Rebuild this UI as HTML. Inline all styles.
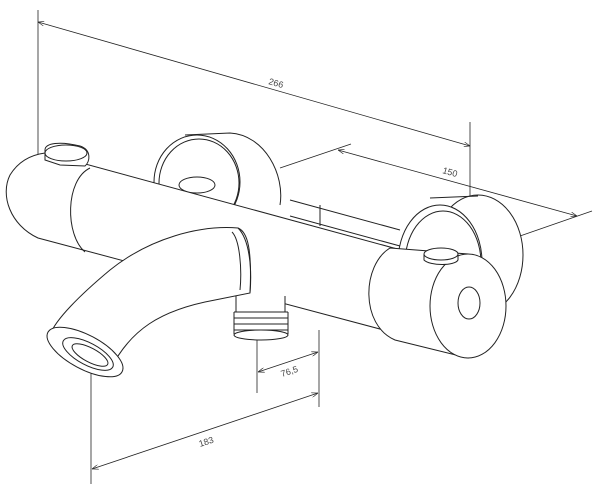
<!DOCTYPE html>
<html><head><style>html,body{margin:0;padding:0;background:#fff}svg{display:block}</style></head>
<body>
<svg width="600" height="486" viewBox="0 0 600 486" xmlns="http://www.w3.org/2000/svg" fill="none" stroke="#222" stroke-width="1">
<defs><marker id="a" markerWidth="8" markerHeight="6" refX="8" refY="3" orient="auto-start-reverse"><path d="M0,0 L8,3 L0,6" fill="none" stroke="#222" stroke-width="0.8"/></marker></defs>
<line x1="38" y1="10" x2="38" y2="157" stroke-width="0.8"/>
<line x1="470" y1="122" x2="470" y2="310" stroke-width="0.8"/>
<line x1="38" y1="22" x2="470" y2="146" stroke-width="0.8" marker-start="url(#a)" marker-end="url(#a)"/>
<text x="268" y="84" font-family="Liberation Sans,sans-serif" font-size="9" fill="#444" stroke="none" transform="rotate(16 268 84)">266</text>
<line x1="280" y1="168" x2="351" y2="144" stroke-width="0.8"/>
<line x1="520" y1="236" x2="592" y2="211" stroke-width="0.8"/>
<line x1="338" y1="150" x2="577" y2="216" stroke-width="0.8" marker-start="url(#a)" marker-end="url(#a)"/>
<text x="442" y="173" font-family="Liberation Sans,sans-serif" font-size="9" fill="#444" stroke="none" transform="rotate(16 442 173)">150</text>
<line x1="257" y1="340" x2="257" y2="393" stroke-width="0.8"/>
<line x1="319" y1="330" x2="319" y2="407" stroke-width="0.8"/>
<line x1="258" y1="372" x2="318" y2="352" stroke-width="0.8" marker-start="url(#a)" marker-end="url(#a)"/>
<text x="282" y="377" font-family="Liberation Sans,sans-serif" font-size="9" fill="#444" stroke="none" transform="rotate(-18 282 377)">76,5</text>
<line x1="91" y1="360" x2="91" y2="484" stroke-width="0.8"/>
<line x1="92" y1="469" x2="318" y2="393" stroke-width="0.8" marker-start="url(#a)" marker-end="url(#a)"/>
<text x="200" y="447" font-family="Liberation Sans,sans-serif" font-size="9" fill="#444" stroke="none" transform="rotate(-18 200 447)">183</text>
<path d="M185,135 L230,133 C265,135 285,175 280,205" fill="#fff"/>
<ellipse cx="197" cy="182" rx="43" ry="47" fill="#fff"/>
<ellipse cx="199" cy="183" rx="40" ry="44"/>
<ellipse cx="197" cy="185" rx="18" ry="8"/>
<path d="M290,200 L400,230 M290,216 L400,246 M320,205 L320,226"/>
<ellipse cx="478" cy="255" rx="45" ry="60" fill="#fff"/>
<path d="M430,198 L478,196"/>
<ellipse cx="440" cy="262" rx="42" ry="57" fill="#fff"/>
<ellipse cx="443" cy="263" rx="38" ry="52"/>
<path d="M45,153 L445,262 L440,345 L38,238 C10,225 0,195 10,175 C18,162 30,155 45,153 Z" fill="#fff"/>
<path d="M90,168 C65,180 65,235 85,252"/>
<path d="M45,160 L45,150 C45,143 60,141 80,146 C92,150 90,162 85,166 L60,165 Z" fill="#fff"/>
<ellipse cx="66" cy="153" rx="21" ry="8" fill="#fff"/>
<path d="M390,248 L468,254 L468,358 L395,340 C360,325 362,265 390,248 Z" fill="#fff"/>
<ellipse cx="468" cy="306" rx="38" ry="52" fill="#fff"/>
<ellipse cx="469" cy="303" rx="11" ry="16" fill="#fff"/>
<path d="M424,254 L424,260 C430,266 455,266 458,260 L458,254" fill="#fff"/>
<ellipse cx="441" cy="254" rx="17" ry="6" fill="#fff"/>
<path d="M236,290 L236,312 L285,312 L285,296" fill="#fff"/>
<path d="M234,312 L288,312 M234,318 L288,318 M234,324 L288,324 M234,330 L288,330 M234,312 L234,334 M288,312 L288,334"/>
<ellipse cx="261" cy="335" rx="27" ry="5" fill="#fff"/>
<path d="M238,228 C200,225 150,238 110,270 C80,295 55,320 50,335 L110,370 C130,330 160,310 215,300 L250,293 C252,270 250,240 238,228 Z" fill="#fff"/>
<path d="M238,228 C248,232 252,250 250,293"/>
<path d="M232,232 C240,240 242,270 240,290"/>
<ellipse cx="85" cy="352" rx="42" ry="17" transform="rotate(28 85 352)" fill="#fff"/>
<ellipse cx="88" cy="354" rx="28" ry="11" transform="rotate(28 88 354)"/>
<ellipse cx="90" cy="355" rx="20" ry="7" transform="rotate(28 90 355)"/>
</svg>
</body></html>
